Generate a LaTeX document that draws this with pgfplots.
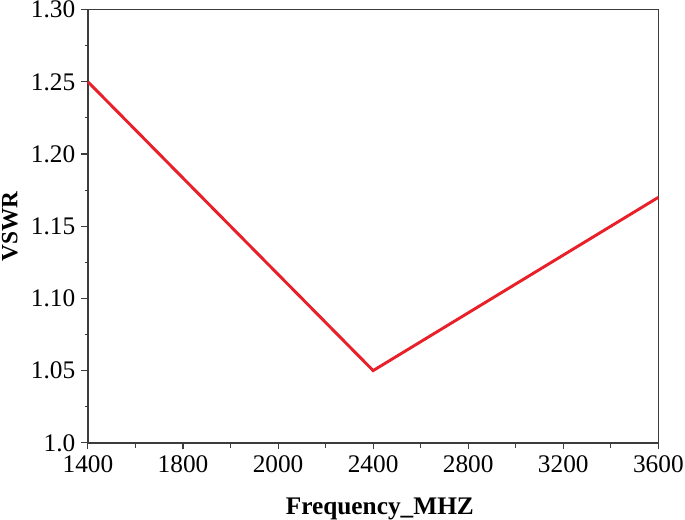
\documentclass[border=0pt]{standalone}
\usepackage{pgfplots}
\pgfplotsset{compat=1.18}
\usepackage{fontspec}
\setmainfont{Liberation Serif}
\definecolor{vred}{RGB}{232,32,42}
\definecolor{axgray}{RGB}{60,60,60}
\begin{document}
\begin{tikzpicture}[x=1pt,y=1pt]
\begin{axis}[
  at={(0,0)}, anchor=origin,
  scale only axis,
  width=428pt, height=325pt,
  xmin=0, xmax=6, ymin=1.0, ymax=1.30,
  xtick={0,1,2,3,4,5,6},
  xticklabels={1400,1800,2000,2400,2800,3200,3600},
  extra x ticks={0.5,1.5,2.5,3.5,4.5,5.5},
  extra x tick labels={},
  ytick={1.0,1.05,1.10,1.15,1.20,1.25,1.30},
  yticklabels={1.0,1.05,1.10,1.15,1.20,1.25,1.30},
  minor y tick num=1,
  tick align=outside,
  xtick pos=left, ytick pos=left,
  major tick length=5pt, minor tick length=2.5pt,
  x tick style={axgray, line width=0.8pt},
  y tick style={axgray, line width=0.8pt},
  extra tick style={axgray, line width=0.8pt, major tick length=4pt},
  axis line style={axgray, line width=1.1pt},
  /pgf/number format/assume math mode=true,
  tick label style={font=\fontsize{19}{20}\selectfont, black},
  xticklabel style={yshift=-1pt},
  yticklabel style={xshift=-1pt},
  xlabel={\textbf{Frequency\_MHZ}},
  ylabel={\textbf{VSWR}},
  xlabel style={font=\fontsize{19}{21}\selectfont, yshift=-3pt, xshift=5pt},
  ylabel style={font=\fontsize{17.5}{19}\selectfont, yshift=3pt},
  clip=false,
]
\addplot[vred, line width=2.2pt] coordinates {(0,1.25) (3,1.05) (6,1.17)};
\end{axis}
\pgfresetboundingbox
\path[use as bounding box] (-66,-57.75) rectangle (448,332.25);
\end{tikzpicture}
\end{document}
